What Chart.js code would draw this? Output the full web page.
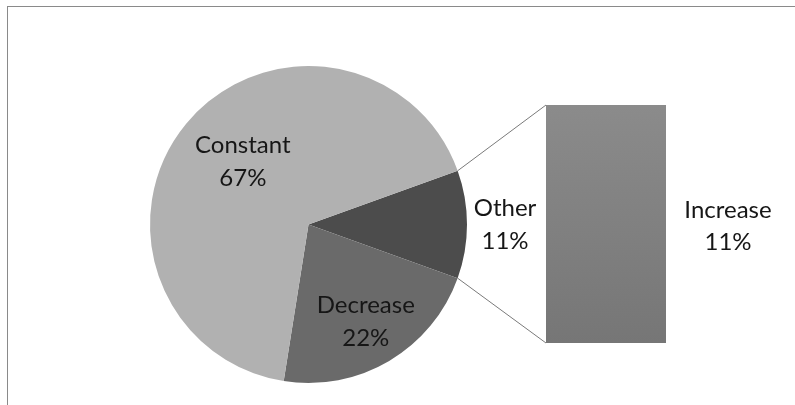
<!DOCTYPE html>
<html>
<head>
<meta charset="utf-8">
<script src="https://cdn.jsdelivr.net/npm/chart.js@4"></script>
<style>
  body { margin: 0; background: #fff; }
  #wrap { position: relative; width: 795px; height: 405px; overflow: hidden; }
  #frame { position: absolute; left: 7px; top: 6px; width: 820px; height: 430px;
           border-left: 1px solid #8a8a8a; border-top: 1px solid #8a8a8a; }
  #pieChart { position: absolute; left: 0; top: 0; }
  #barChart { position: absolute; left: 546px; top: 105px; }
</style>
</head>
<body>
<div id="wrap">
  <div id="frame"></div>
  <canvas id="pieChart" width="795" height="405"></canvas>
  <canvas id="barChart" width="120" height="238"></canvas>
</div>
<script>
// slices listed clockwise, starting with the one that is split into the bar
const categories = ["Other", "Decrease", "Constant"];
const pieValues = [11, 22, 67];
const barCategories = ["Increase"];
const barValues = [11];

const FONT = "24px Lato, 'Open Sans', sans-serif";
const TEXT = "#161616";

// bar of the "Other" slice
const barChart = new Chart(document.getElementById("barChart"), {
  type: "bar",
  data: {
    labels: [""],
    datasets: barCategories.map((name, i) => ({
      label: name,
      data: [barValues[i]],
      borderWidth: 0,
      backgroundColor: ctx => {
        const area = ctx.chart.chartArea;
        if (!area) return "#808080";
        const g = ctx.chart.ctx.createLinearGradient(0, area.top, 0, area.bottom);
        g.addColorStop(0, "#8b8b8b");
        g.addColorStop(1, "#767676");
        return g;
      }
    }))
  },
  options: {
    responsive: false,
    animation: false,
    events: [],
    layout: { padding: 0 },
    barPercentage: 1,
    categoryPercentage: 1,
    plugins: { legend: { display: false }, tooltip: { enabled: false } },
    scales: {
      x: { display: false, stacked: true },
      y: { display: false, stacked: true, min: 0, max: barValues.reduce((a, b) => a + b, 0) }
    }
  }
});

// labels and connector lines
const pieExtras = {
  id: "pieExtras",
  afterDraw(chart) {
    const c = chart.ctx;
    const arcs = chart.getDatasetMeta(0).data;
    const radial = [1.24, 0.71, 0.575];
    const nudge = [0, 0, 4.3]; // degrees
    c.save();
    c.font = FONT;
    c.fillStyle = TEXT;
    c.textAlign = "center";
    c.textBaseline = "middle";
    arcs.forEach((arc, i) => {
      const mid = (arc.startAngle + arc.endAngle) / 2 + nudge[i] * Math.PI / 180;
      const r = arc.outerRadius * radial[i];
      const x = arc.x + Math.cos(mid) * r;
      const y = arc.y + Math.sin(mid) * r;
      c.fillText(categories[i], x, y - 16);
      c.fillText(pieValues[i] + "%", x, y + 17);
    });

    // connectors from the Other slice to the bar
    const other = arcs[0];
    const bar = barChart.getDatasetMeta(0).data[0];
    const offX = 546, offY = 105;
    const left = offX + bar.x - bar.width / 2;
    const right = offX + bar.x + bar.width / 2;
    c.strokeStyle = "#7a7a7a";
    c.lineWidth = 1;
    c.beginPath();
    c.moveTo(other.x + Math.cos(other.startAngle) * other.outerRadius,
             other.y + Math.sin(other.startAngle) * other.outerRadius);
    c.lineTo(left, offY + bar.y);
    c.moveTo(other.x + Math.cos(other.endAngle) * other.outerRadius,
             other.y + Math.sin(other.endAngle) * other.outerRadius);
    c.lineTo(left, offY + bar.base);
    c.stroke();

    // bar label sits to the right of the bar
    const by = offY + (bar.y + bar.base) / 2;
    c.fillText(barCategories[0], right + 62, by - 14);
    c.fillText(barValues[0] + "%", right + 62, by + 18);
    c.restore();
  }
};

// Other slice centred on 3 o'clock, like Excel's pie-of-bar
const rotation = 90 - pieValues[0] * 1.8;

new Chart(document.getElementById("pieChart"), {
  type: "pie",
  data: {
    labels: categories,
    datasets: [{
      data: pieValues,
      backgroundColor: ["#4c4c4c", "#6a6a6a", "#b1b1b1"],
      borderWidth: 0,
      hoverOffset: 0
    }]
  },
  options: {
    responsive: false,
    animation: false,
    events: [],
    rotation: rotation,
    layout: { padding: { left: 150, right: 328, top: 66, bottom: 22 } },
    plugins: { legend: { display: false }, tooltip: { enabled: false } }
  },
  plugins: [pieExtras]
});
</script>
</body>
</html>
